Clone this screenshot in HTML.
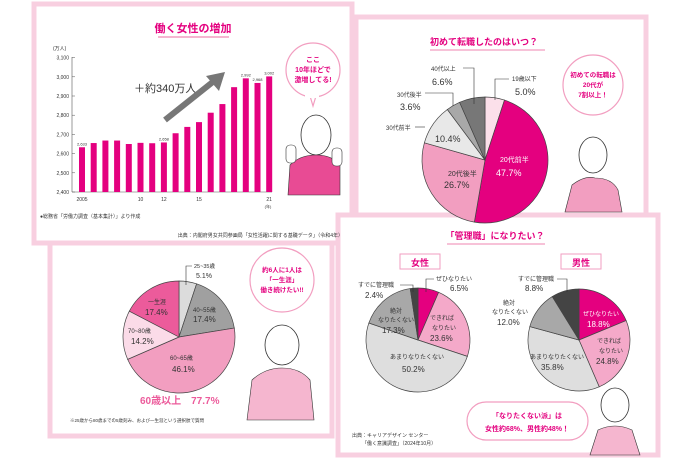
<!DOCTYPE html>
<html><head><meta charset="utf-8">
<style>
html,body{margin:0;padding:0;background:#fff;}
svg{display:block;font-family:"Liberation Sans","Noto Sans CJK JP",sans-serif;}
</style></head>
<body>
<svg id="s" width="690" height="460" viewBox="0 0 690 460" xmlns="http://www.w3.org/2000/svg">
<rect width="690" height="460" fill="#fff"/>
<rect x="356" y="17" width="290" height="200" fill="#fff" stroke="#f8cfe0" stroke-width="5"/>
<rect x="50" y="240" width="282" height="196" fill="#fff" stroke="#f8cfe0" stroke-width="5"/>
<rect x="34" y="4" width="318" height="239" fill="#fff" stroke="#f8cfe0" stroke-width="5"/>
<rect x="338" y="215" width="320" height="240" fill="#fff" stroke="#f8cfe0" stroke-width="5"/>

<!-- ===== Panel 1 ===== -->
<text x="193" y="32" font-size="11" font-weight="bold" fill="#e4007f" text-anchor="middle">働く女性の増加</text>
<line x1="158" y1="37" x2="229" y2="37" stroke="#f29ec0" stroke-width="1.5"/>
<text x="53" y="50" font-size="5" fill="#333">(万人)</text>
<g id="bars"></g>
<text x="134" y="92" font-size="11" fill="#333">＋約340万人</text>
<line x1="165" y1="120" x2="214" y2="81" stroke="#777" stroke-width="6"/>
<polygon points="225,72 206,76 219,91" fill="#777"/>
<text x="40" y="218" font-size="5" fill="#333">●総務省「労働力調査（基本集計）」より作成</text>
<text x="343" y="237" font-size="5" fill="#333" text-anchor="end">出典：内閣府男女共同参画局「女性活躍に関する基礎データ」（令和4年）</text>
<circle cx="313" cy="70" r="27" fill="#fff" stroke="#f29ec0" stroke-width="1.2"/>
<polygon points="310,96 316,96 313,106" fill="#fff" stroke="#f29ec0" stroke-width="1.2"/>
<rect x="305" y="95" width="14" height="3" fill="#fff"/>
<text x="313" y="62" font-size="7" font-weight="bold" fill="#e4007f" text-anchor="middle">ここ</text>
<text x="313" y="72" font-size="7" font-weight="bold" fill="#e4007f" text-anchor="middle">10年ほどで</text>
<text x="313" y="82" font-size="7" font-weight="bold" fill="#e4007f" text-anchor="middle">激増してる!</text>
<ellipse cx="316" cy="135" rx="15" ry="20" fill="#fff" stroke="#333" stroke-width="0.8"/>
<path d="M288 195 L290 165 Q300 155 316 155 Q332 155 340 165 L340 195 Z" fill="#e84b94" stroke="#333" stroke-width="0.6"/>
<rect x="286" y="145" width="10" height="18" rx="4" fill="#fff" stroke="#333" stroke-width="0.6"/>
<rect x="332" y="148" width="10" height="18" rx="4" fill="#fff" stroke="#333" stroke-width="0.6"/>

<!-- ===== Panel 2 ===== -->
<text x="430" y="45" font-size="9" font-weight="bold" fill="#e4007f">初めて転職したのはいつ？</text>
<line x1="430" y1="50" x2="545" y2="50" stroke="#f29ec0" stroke-width="1.2"/>
<g id="pie2"></g>
<text x="512" y="81" font-size="6" fill="#333">19歳以下</text>
<text x="515" y="95" font-size="9" fill="#333">5.0%</text>
<text x="431" y="71" font-size="6" fill="#333">40代以上</text>
<text x="432" y="85" font-size="9" fill="#333">6.6%</text>
<text x="397" y="97" font-size="6" fill="#333">30代後半</text>
<text x="400" y="110" font-size="9" fill="#333">3.6%</text>
<text x="386" y="130" font-size="6" fill="#333">30代前半</text>
<text x="435" y="142" font-size="9" fill="#333">10.4%</text>
<text x="448" y="176" font-size="7" fill="#333">20代後半</text>
<text x="444" y="188" font-size="9" fill="#333">26.7%</text>
<text x="500" y="162" font-size="7" fill="#fff">20代前半</text>
<text x="496" y="176" font-size="9" fill="#fff">47.7%</text>
<polyline points="509,79 495,79 495,100" fill="none" stroke="#333" stroke-width="0.6"/>
<polyline points="463,68 474,68 474,104" fill="none" stroke="#333" stroke-width="0.6"/>
<polyline points="425,93 453,93 453,106" fill="none" stroke="#333" stroke-width="0.6"/>
<line x1="415" y1="127" x2="425" y2="127" stroke="#333" stroke-width="0.6"/>
<circle cx="593" cy="85" r="30" fill="#fff" stroke="#f29ec0" stroke-width="1.2"/>
<text x="593" y="77" font-size="6.5" font-weight="bold" fill="#e4007f" text-anchor="middle">初めての転職は</text>
<text x="593" y="87" font-size="6.5" font-weight="bold" fill="#e4007f" text-anchor="middle">20代が</text>
<text x="593" y="97" font-size="6.5" font-weight="bold" fill="#e4007f" text-anchor="middle">7割以上！</text>
<ellipse cx="593" cy="155" rx="14" ry="18" fill="#fff" stroke="#333" stroke-width="0.8"/>
<path d="M565 212 L572 185 Q585 175 595 178 Q612 178 618 190 L622 212 Z" fill="#f29ec0" stroke="#333" stroke-width="0.6"/>

<!-- ===== Panel 3 ===== -->
<g id="pie3"></g>
<polyline points="192,266 186,266 186,285" fill="none" stroke="#333" stroke-width="0.6"/>
<text x="194" y="268" font-size="5.5" fill="#333">25~35歳</text>
<text x="196" y="278" font-size="7" fill="#333">5.1%</text>
<text x="193" y="312" font-size="6" fill="#333">40~55歳</text>
<text x="193" y="322" font-size="8" fill="#333">17.4%</text>
<text x="148" y="304" font-size="6" fill="#333">一生涯</text>
<text x="145" y="315" font-size="8" fill="#333">17.4%</text>
<text x="128" y="333" font-size="6" fill="#333">70~80歳</text>
<text x="131" y="344" font-size="8" fill="#333">14.2%</text>
<text x="170" y="360" font-size="6" fill="#333">60~65歳</text>
<text x="172" y="372" font-size="8" fill="#333">46.1%</text>
<text x="140" y="404" font-size="10" font-weight="bold" fill="#ec5b9b">60歳以上　77.7%</text>
<text x="70" y="422" font-size="4.5" fill="#333">※25歳から80歳までの5歳刻み、および一生涯という選択肢で質問</text>
<circle cx="282" cy="280" r="32" fill="#fff" stroke="#f29ec0" stroke-width="1.2"/>
<text x="282" y="272" font-size="6.5" font-weight="bold" fill="#e4007f" text-anchor="middle">約6人に1人は</text>
<text x="282" y="282" font-size="6.5" font-weight="bold" fill="#e4007f" text-anchor="middle">「一生涯」</text>
<text x="282" y="292" font-size="6.5" font-weight="bold" fill="#e4007f" text-anchor="middle">働き続けたい!!</text>
<ellipse cx="282" cy="345" rx="17" ry="20" fill="#fff" stroke="#333" stroke-width="0.8"/>
<path d="M247 420 L252 380 Q265 368 282 368 Q300 368 310 380 L314 420 Z" fill="#f5b6cf" stroke="#333" stroke-width="0.6"/>

<!-- ===== Panel 4 ===== -->
<text x="495" y="239" font-size="9" font-weight="bold" fill="#e4007f" text-anchor="middle">「管理職」になりたい？</text>
<line x1="447" y1="244" x2="545" y2="244" stroke="#f29ec0" stroke-width="1.2"/>
<rect x="400" y="254" width="40" height="15" fill="#fff" stroke="#f29ec0" stroke-width="1"/>
<text x="420" y="266" font-size="9" font-weight="bold" fill="#e4007f" text-anchor="middle">女性</text>
<rect x="561" y="254" width="40" height="15" fill="#fff" stroke="#f29ec0" stroke-width="1"/>
<text x="581" y="266" font-size="9" font-weight="bold" fill="#e4007f" text-anchor="middle">男性</text>
<g id="pieF"></g>
<g id="pieM"></g>
<polyline points="400,285 413,285 413,292" fill="none" stroke="#333" stroke-width="0.6"/>
<polyline points="434,279 426,279 426,292" fill="none" stroke="#333" stroke-width="0.6"/>
<polyline points="557,279 567,279 567,292" fill="none" stroke="#333" stroke-width="0.6"/>
<text x="358" y="287" font-size="6" fill="#333">すでに管理職</text>
<text x="365" y="298" font-size="8" fill="#333">2.4%</text>
<text x="436" y="281" font-size="6" fill="#333">ぜひなりたい</text>
<text x="450" y="291" font-size="8" fill="#333">6.5%</text>
<text x="390" y="313" font-size="6" fill="#333">絶対</text>
<text x="378" y="322" font-size="6" fill="#333">なりたくない</text>
<text x="382" y="333" font-size="8" fill="#333">17.3%</text>
<text x="430" y="320" font-size="6" fill="#333">できれば</text>
<text x="432" y="330" font-size="6" fill="#333">なりたい</text>
<text x="430" y="341" font-size="8" fill="#333">23.6%</text>
<text x="390" y="359" font-size="6" fill="#333">あまりなりたくない</text>
<text x="402" y="372" font-size="8" fill="#333">50.2%</text>
<text x="518" y="281" font-size="6" fill="#333">すでに管理職</text>
<text x="525" y="291" font-size="8" fill="#333">8.8%</text>
<text x="503" y="305" font-size="6" fill="#333">絶対</text>
<text x="492" y="314" font-size="6" fill="#333">なりたくない</text>
<text x="497" y="325" font-size="8" fill="#333">12.0%</text>
<text x="583" y="316" font-size="6" fill="#fff">ぜひなりたい</text>
<text x="587" y="327" font-size="8" fill="#fff">18.8%</text>
<text x="597" y="343" font-size="6" fill="#333">できれば</text>
<text x="599" y="353" font-size="6" fill="#333">なりたい</text>
<text x="596" y="364" font-size="8" fill="#333">24.8%</text>
<text x="530" y="359" font-size="6" fill="#333">あまりなりたくない</text>
<text x="541" y="370" font-size="8" fill="#333">35.8%</text>
<rect x="467" y="402" width="121" height="38" rx="19" fill="#fff" stroke="#f29ec0" stroke-width="1.2"/>
<text x="527" y="418" font-size="7" font-weight="bold" fill="#e4007f" text-anchor="middle">「なりたくない派」は</text>
<text x="527" y="431" font-size="7" font-weight="bold" fill="#e4007f" text-anchor="middle">女性約68%、男性約48%！</text>
<text x="352" y="437" font-size="5" fill="#333">出典：キャリアデザイン センター</text>
<text x="362" y="445" font-size="5" fill="#333">「働く意識調査」（2024年10月）</text>
<ellipse cx="615" cy="405" rx="14" ry="17" fill="#fff" stroke="#333" stroke-width="0.8"/>
<path d="M590 455 L598 430 Q615 422 632 430 L640 455 Z" fill="#f5b6cf" stroke="#333" stroke-width="0.6"/>
</svg>
<script>
var NS="http://www.w3.org/2000/svg";
function el(p,t,a){var e=document.createElementNS(NS,t);for(var k in a)e.setAttribute(k,a[k]);p.appendChild(e);return e;}
var g=document.getElementById('bars');
var vals=[2633,2655,2668,2668,2650,2656,2654,2658,2706,2739,2764,2813,2858,2946,2992,2968,3002];
function Y(v){return 192-(v-2400)*0.192;}
el(g,'line',{x1:72,y1:57,x2:72,y2:192,stroke:'#555','stroke-width':0.6});
el(g,'line',{x1:72,y1:192,x2:272,y2:192,stroke:'#555','stroke-width':0.6});
for(var v=2400;v<=3100;v+=100){var t=el(g,'text',{x:69,y:Y(v)+2,'font-size':5,fill:'#333','text-anchor':'end'});t.textContent=(v+'').replace(/(\d)(\d{3})/,'$1,$2');el(g,'line',{x1:72,y1:Y(v),x2:75,y2:Y(v),stroke:'#555','stroke-width':0.5});}
for(var i=0;i<vals.length;i++){var x=79+i*11.7;el(g,'rect',{x:x,y:Y(vals[i]),width:6,height:192-Y(vals[i]),fill:'#e4007f'});}
var lab={0:'2,633',7:'2,658',14:'2,992',15:'2,968',16:'3,002'};
for(var k in lab){var t=el(g,'text',{x:82+k*11.7,y:Y(vals[k])-2,'font-size':4,fill:'#333','text-anchor':'middle'});t.textContent=lab[k];}
var xl={0:'2005',5:'10',7:'12',10:'15',16:'21'};
for(var k in xl){var t=el(g,'text',{x:82+k*11.7,y:201,'font-size':5,fill:'#333','text-anchor':'middle'});t.textContent=xl[k];}
var t=el(g,'text',{x:268,y:208,'font-size':4,fill:'#333','text-anchor':'middle'});t.textContent='(年)';
function pie(id,cx,cy,r,data){var p=document.getElementById(id);var a=-Math.PI/2;var tot=data.reduce(function(s,d){return s+d[0]},0);
data.forEach(function(d){var b=a+d[0]/tot*2*Math.PI;var x1=cx+r*Math.cos(a),y1=cy+r*Math.sin(a),x2=cx+r*Math.cos(b),y2=cy+r*Math.sin(b);
el(p,'path',{d:'M'+cx+' '+cy+'L'+x1+' '+y1+'A'+r+' '+r+' 0 '+((b-a)>Math.PI?1:0)+' 1 '+x2+' '+y2+'Z',fill:d[1],stroke:'#444','stroke-width':0.7});a=b;});}
pie('pie2',485,160,63,[[5.0,'#fbe0ea'],[47.7,'#e4007f'],[26.7,'#f29ec0'],[10.4,'#e8e8e8'],[3.6,'#a8a8a8'],[6.6,'#777']]);
pie('pie3',179,337,56,[[5.1,'#dcdcdc'],[17.4,'#a0a0a0'],[46.1,'#f29ec0'],[14.2,'#fbdbe8'],[17.4,'#ec5b9b']]);
pie('pieF',418,340,52,[[6.5,'#e4007f'],[23.6,'#f4a9c9'],[50.2,'#dedede'],[17.3,'#a8a8a8'],[2.4,'#444']]);
pie('pieM',579,340,51,[[18.8,'#e4007f'],[24.8,'#f4a9c9'],[35.8,'#dedede'],[12.0,'#a8a8a8'],[8.8,'#444']]);
</script>
</body></html>
